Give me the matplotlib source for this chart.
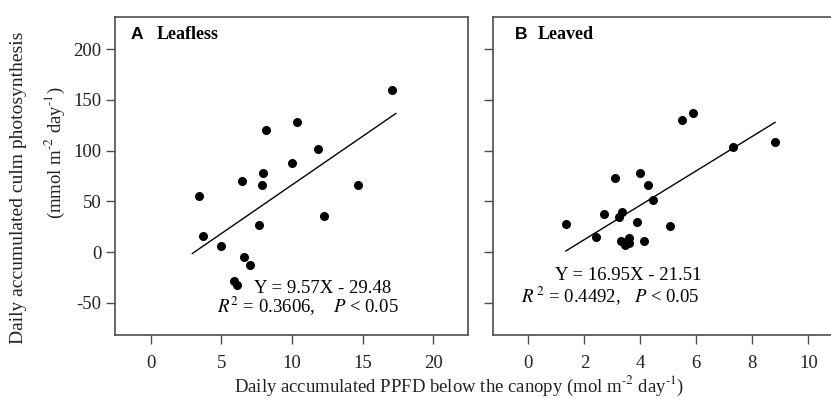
import matplotlib
matplotlib.use('Agg')
import matplotlib.pyplot as plt
import numpy as np

# Leafless culms: PPFD (x) and culm photosynthesis (y)
leafless_x = [17.1, 10.33, 8.16, 11.84, 10.0, 7.97, 6.46, 7.85, 14.65, 3.4,
              12.24, 7.64, 3.68, 5.0, 6.58, 7.05, 5.87, 6.13]
leafless_y = [160, 128, 120, 101.7, 88, 77.8, 70, 66, 66, 55,
              36, 26.9, 16, 5.9, -5.2, -12.5, -28.2, -32]

# Leaved culms
leaved_x = [5.5, 5.89, 7.32, 8.79, 3.09, 3.98, 4.26, 4.45, 1.34, 2.69,
            3.35, 3.24, 3.87, 5.05, 2.41, 3.31, 3.61, 3.45, 3.59, 4.12]
leaved_y = [130.6, 136.8, 103.3, 108.3, 72.8, 78, 66, 51.2, 27.6, 37.7,
            39.7, 35.1, 29.8, 26.2, 15.1, 11.5, 14.1, 7.2, 8.6, 11.1]

# Regression fits (slope, intercept, x range)
leafless_fit = (9.57, -29.48, 2.95, 17.35)
leaved_fit = (16.95, -21.51, 1.34, 8.81)

leafless_xticks = [0, 5, 10, 15, 20]
leaved_xticks = [0, 2, 4, 6, 8, 10]
yticks = [-50, 0, 50, 100, 150, 200]

plt.rcParams['font.family'] = 'Liberation Serif'
plt.rcParams['mathtext.fontset'] = 'stix'
plt.rcParams['axes.unicode_minus'] = False

fig = plt.figure(figsize=(8.31, 3.99), dpi=100)
ax1 = fig.add_axes([0.1378, 0.1604, 0.4254, 0.7977])
ax2 = fig.add_axes([0.5933, 0.1604, 0.4085, 0.7977])

frame_col = '#4d4d4d'


def style_axes(ax, xticks, xlim, show_ylabels):
    ax.set_xlim(*xlim)
    ax.set_ylim(-81.5, 231.8)
    ax.set_xticks(xticks)
    ax.set_yticks(yticks)
    for s in ax.spines.values():
        s.set_color(frame_col)
        s.set_linewidth(1.2)
    ax.tick_params(axis='both', direction='out', length=6.5, width=1.0,
                   color=frame_col, labelsize=13.5, labelcolor='#222222')
    ax.tick_params(axis='x', pad=8)
    ax.tick_params(axis='y', pad=3)
    if not show_ylabels:
        ax.set_yticklabels([])


# Left panel: leafless
ax1.scatter(leafless_x, leafless_y, s=30, color='black', zorder=3)
m, b, x0, x1 = leafless_fit
xs = np.array([x0, x1])
ax1.plot(xs, m * xs + b, color='black', lw=1.0)
style_axes(ax1, leafless_xticks, (-2.56, 22.46), True)
ax1.text(-1.39, 209.6, 'A', fontfamily='Liberation Sans', fontweight='bold',
         fontsize=12.5, va='baseline')
ax1.text(0.42, 209.6, 'Leafless', fontweight='bold', fontsize=13, va='baseline')
ax1.text(12.19, -35.4, 'Y = 9.57X - 29.48', fontsize=13.5, ha='center', va='center')
ax1.text(11.12, -53.8, '$R^2$ = 0.3606,    $P$ < 0.05', fontsize=13.5,
         ha='center', va='center')

# Right panel: leaved
ax2.scatter(leaved_x, leaved_y, s=30, color='black', zorder=3)
m, b, x0, x1 = leaved_fit
xs = np.array([x0, x1])
ax2.plot(xs, m * xs + b, color='black', lw=1.0)
style_axes(ax2, leaved_xticks, (-1.26, 10.86), False)
ax2.text(-0.48, 209.6, 'B', fontfamily='Liberation Sans', fontweight='bold',
         fontsize=12.5, va='baseline')
ax2.text(0.34, 209.6, 'Leaved', fontweight='bold', fontsize=13, va='baseline')
ax2.text(3.56, -23.3, 'Y = 16.95X - 21.51', fontsize=13.5, ha='center', va='center')
ax2.text(2.92, -43.6, '$R^{\\,2}$ = 0.4492,   $P$ < 0.05', fontsize=13.5,
         ha='center', va='center')

# Axis labels
fig.text(0.0217, 0.529, 'Daily accumulated culm photosynthesis', rotation=90,
         fontsize=14, ha='center', va='center', color='#222222')
fig.text(0.066, 0.6165, '(mmol m$^{\\text{-}2}$ day$^{\\text{-}1}$)', rotation=90,
         fontsize=13.5, ha='center', va='center', color='#222222')
fig.text(0.552, 0.0326,
         'Daily accumulated PPFD below the canopy (mol m$^{\\text{-}2}$ day$^{\\text{-}1}$)',
         fontsize=13.5, ha='center', va='center', color='#222222')

fig.savefig('out.png', dpi=100)
